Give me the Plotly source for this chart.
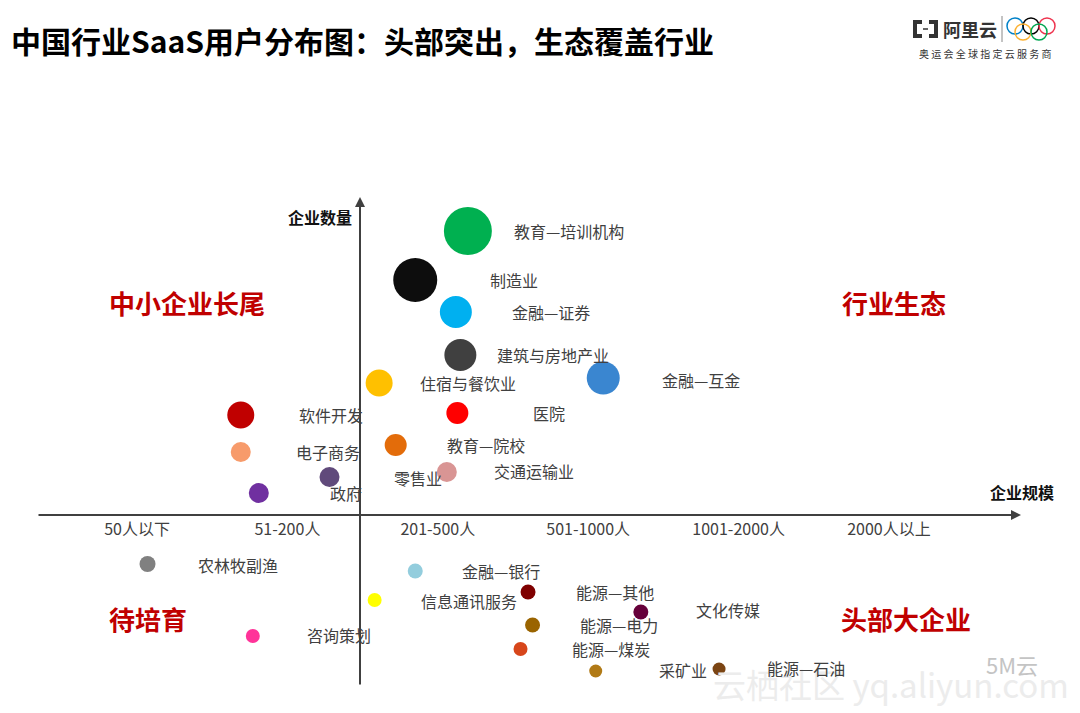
import plotly.graph_objects as go

# ---------------- data ----------------
size_labels = ["50人以下", "51-200人", "201-500人", "501-1000人", "1001-2000人", "2000人以上"]

industries = ["教育—培训机构", "制造业", "金融—证券", "建筑与房地产业", "住宿与餐饮业", "金融—互金",
              "软件开发", "医院", "电子商务", "教育—院校", "零售业", "政府", "交通运输业",
              "农林牧副渔", "金融—银行", "信息通讯服务", "能源—其他", "文化传媒", "能源—电力",
              "能源—煤炭", "咨询策划", "采矿业", "能源—石油"]
scale_pos = [2.20, 1.85, 2.12, 2.15, 1.61, 3.10,
             0.69, 2.13, 0.69, 1.72, 1.28, 0.81, 2.06,
             0.07, 1.85, 1.58, 2.60, 3.35, 2.63,
             2.55, 0.77, 3.05, 3.87]
count_pos = [2.84, 2.35, 2.03, 1.60, 1.32, 1.37,
             1.00, 1.02, 0.63, 0.70, 0.38, 0.22, 0.43,
             -0.49, -0.56, -0.85, -0.77, -0.97, -1.10,
             -1.34, -1.21, -1.56, -1.54]
bubble_size = [48, 44, 32, 32, 27, 33,
               27, 22, 20, 22, 20, 20, 20,
               16, 15, 14, 15, 15, 15,
               14, 14, 13, 13]
colors = ["#00b050", "#0d0d0d", "#00b0f0", "#404040", "#ffc000", "#3a86d0",
          "#c00000", "#ff0000", "#f79b6b", "#e36c0a", "#604a7b", "#7030a0", "#d99594",
          "#808080", "#93cddd", "#ffff00", "#7f0000", "#66003a", "#9a6400",
          "#d7461b", "#ff3399", "#b17a16", "#7b4513"]
label_dx = [101, 99, 95, 93, 89, 98,
            90, 92, 87, 90, 88, 87, 87,
            90, 86, 94, 87, 87, 86,
            90, 86, 87, 87]
label_dy = [0, 0, 0, 0, 0, -2,
            0, 0, 0, 0, -1, 0, 1,
            -1, 0, -1, 0, 2, 0,
            0, 1, 1, 1]

quadrants = ["中小企业长尾", "行业生态", "待培育", "头部大企业"]

# ---------------- geometry helpers (pixel -> axis units) ----------------
W, H = 1080, 713
X0, XS = 137.0, 150.4
Y0, YS = 515.0, 100.0


def px2x(px):
    return (px - X0) / XS


def px2y(py):
    return (Y0 - py) / YS


def pxp(px):
    return px / W


def pyp(py):
    return 1 - py / H


FONT = "Noto Sans CJK SC, Microsoft YaHei, sans-serif"
TXT = "#404040"

fig = go.Figure()
fig.add_trace(go.Scatter(
    x=scale_pos, y=count_pos, mode="markers",
    marker=dict(size=bubble_size, color=colors, line=dict(width=0), opacity=1),
    text=industries, hoverinfo="text", showlegend=False,
))

ann = []
# watermark first (drawn beneath other annotations)
ann.append(dict(x=pxp(891), y=pyp(684), xref="paper", yref="paper", xanchor="center", yanchor="middle",
                text="云栖社区 yq.aliyun.com", showarrow=False,
                font=dict(family=FONT, size=33, color="#ececec")))
ann.append(dict(x=pxp(1012), y=pyp(664), xref="paper", yref="paper", xanchor="center", yanchor="middle",
                text="5M云", showarrow=False, font=dict(family=FONT, size=22, color="#c4c4c4")))

for name, xv, yv, dx, dy in zip(industries, scale_pos, count_pos, label_dx, label_dy):
    ann.append(dict(x=xv, y=yv, xref="x", yref="y", text=name, showarrow=False,
                    xshift=dx, yshift=dy, xanchor="center", yanchor="middle",
                    font=dict(family=FONT, size=16, color=TXT)))

# axes arrows
ann.append(dict(x=px2x(1021), y=0, ax=px2x(37), ay=0, xref="x", yref="y", axref="x", ayref="y",
                text="", showarrow=True, arrowhead=2, arrowsize=1, arrowwidth=2, arrowcolor=TXT))
ann.append(dict(x=px2x(360), y=px2y(197), ax=px2x(360), ay=px2y(686), xref="x", yref="y",
                axref="x", ayref="y", text="", showarrow=True, arrowhead=2, arrowsize=1,
                arrowwidth=2, arrowcolor=TXT))

# axis titles
ann.append(dict(x=px2x(320), y=px2y(217), xref="x", yref="y", text="<b>企业数量</b>", showarrow=False,
                xanchor="center", yanchor="middle", font=dict(family=FONT, size=16, color="#111111")))
ann.append(dict(x=px2x(1022), y=px2y(492), xref="x", yref="y", text="<b>企业规模</b>", showarrow=False,
                xanchor="center", yanchor="middle", font=dict(family=FONT, size=16, color="#111111")))

# quadrant labels
q_pos = [(187, 302), (894, 302), (148, 618), (906, 618)]
for q, (qx, qy) in zip(quadrants, q_pos):
    ann.append(dict(x=px2x(qx), y=px2y(qy), xref="x", yref="y", text="<b>%s</b>" % q,
                    xanchor="center", yanchor="middle",
                    showarrow=False, font=dict(family=FONT, size=26, color="#c00000")))

# title
ann.append(dict(x=pxp(9), y=pyp(40), xref="paper", yref="paper", xanchor="left", yanchor="middle",
                text="<b>中国行业SaaS用户分布图：头部突出，生态覆盖行业</b>", showarrow=False,
                font=dict(family=FONT, size=30, color="#000000")))

# logo texts
ann.append(dict(x=pxp(970), y=pyp(29), xref="paper", yref="paper", xanchor="center", yanchor="middle",
                text="<b>阿里云</b>", showarrow=False, font=dict(family=FONT, size=18, color="#333333")))
ann.append(dict(x=pxp(985), y=pyp(53), xref="paper", yref="paper", xanchor="center", yanchor="middle",
                text="奥 运 会 全 球 指 定 云 服 务 商", showarrow=False,
                font=dict(family=FONT, size=10, color="#333333")))

shapes = []
# aliyun icon: two brackets and a dash
lb = "M %f %f L %f %f L %f %f L %f %f" % (pxp(922), pyp(22), pxp(915), pyp(22), pxp(915), pyp(36), pxp(922), pyp(36))
rb = "M %f %f L %f %f L %f %f L %f %f" % (pxp(929), pyp(22), pxp(936), pyp(22), pxp(936), pyp(36), pxp(929), pyp(36))
shapes.append(dict(type="path", xref="paper", yref="paper", path=lb, line=dict(color="#333333", width=4)))
shapes.append(dict(type="path", xref="paper", yref="paper", path=rb, line=dict(color="#333333", width=4)))
shapes.append(dict(type="line", xref="paper", yref="paper", x0=pxp(923), x1=pxp(928),
                   y0=pyp(29), y1=pyp(29), line=dict(color="#333333", width=1.5)))
shapes.append(dict(type="line", xref="paper", yref="paper", x0=pxp(1002), x1=pxp(1002),
                   y0=pyp(42), y1=pyp(16), line=dict(color="#888888", width=1)))
# olympic rings
rings = [(1015, 26, "#0081c8"), (1031, 26, "#000000"), (1047, 26, "#ee334e"),
         (1023, 32, "#fcb131"), (1039, 32, "#00a651")]
for rx, ry, rc in rings:
    shapes.append(dict(type="circle", xref="paper", yref="paper",
                       x0=pxp(rx - 8), x1=pxp(rx + 8), y0=pyp(ry + 8), y1=pyp(ry - 8),
                       line=dict(color=rc, width=1.5)))

fig.update_layout(
    width=W, height=H,
    margin=dict(l=0, r=0, t=0, b=0),
    paper_bgcolor="white", plot_bgcolor="white",
    xaxis=dict(range=[px2x(0), px2x(W)], tickvals=list(range(len(size_labels))), ticktext=size_labels,
               anchor="free", position=1 - Y0 / H, showgrid=False, zeroline=False, showline=False,
               ticks="", ticklabelstandoff=3,
               tickfont=dict(family=FONT, size=16, color=TXT), fixedrange=True),
    yaxis=dict(range=[px2y(H), px2y(0)], showgrid=False, zeroline=False, showline=False,
               showticklabels=False, ticks="", fixedrange=True),
    annotations=ann, shapes=shapes,
    font=dict(family=FONT),
)

fig.write_html("out.html", config={"displayModeBar": False},
               post_script="document.body.style.margin='0';")
